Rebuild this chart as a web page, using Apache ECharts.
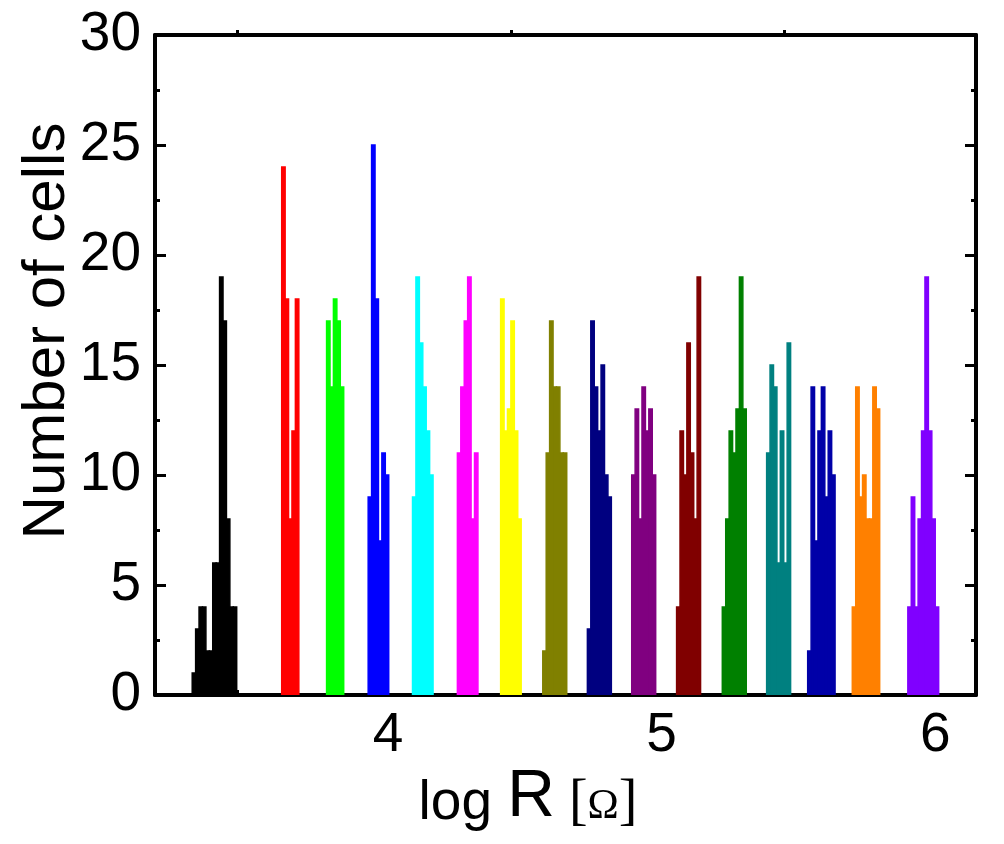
<!DOCTYPE html>
<html>
<head>
<meta charset="utf-8">
<script src="https://cdn.jsdelivr.net/npm/echarts@6/dist/echarts.min.js"></script>
<style>
  html, body { margin: 0; padding: 0; background: #fff; }
  #main { width: 1004px; height: 844px; }
</style>
</head>
<body>
<div id="main"></div>
<script>
// histogram bin width in log R units
var binWidth = 0.0125;
// left edge of each histogram (log R)
var groupStarts = [3.336, 3.663, 3.827, 3.979, 4.141, 4.305, 4.463, 4.617,
                   4.780, 4.942, 5.106, 5.273, 5.435, 5.585, 5.748, 5.951];
// counts per bin, one array per histogram
var groupCounts = [
    [1, 3, 4, 4, 2, 2, 6, 6, 19, 17, 8, 4, 4],
    [24, 18, 8, 12, 18],
    [17, 14, 18, 17, 14],
    [9, 25, 18, 7, 11, 10],
    [9, 19, 16, 14, 12, 10],
    [11, 14, 17, 19, 8, 11],
    [18, 12, 13, 17, 12, 8],
    [2, 11, 17, 14, 14, 11, 11],
    [3, 17, 14, 12, 15, 10, 9],
    [10, 13, 8, 14, 12, 13, 10],
    [4, 12, 10, 16, 11, 8, 19],
    [4, 8, 12, 11, 13, 19, 13],
    [11, 15, 14, 6, 12, 6, 16],
    [2, 14, 7, 12, 14, 9, 12, 10],
    [4, 14, 9, 10, 8, 8, 14, 13],
    [4, 9, 4, 8, 12, 19, 12, 8, 4]
];
var groupColors = ['#000000', '#ff0000', '#00ff00', '#0000ff', '#00ffff', '#ff00ff',
                   '#ffff00', '#808000', '#000080', '#800080', '#800000', '#008000',
                   '#008080', '#0000a8', '#ff8000', '#8000ff'];

var fontSans = 'Liberation Sans, Arial, sans-serif';
var fontSerif = 'Liberation Serif, Times New Roman, serif';

function renderBin(params, api) {
    var lo = api.coord([api.value(0), api.value(2)]);
    var hi = api.coord([api.value(1), 0]);
    var c = api.visual('color');
    return {
        type: 'rect',
        shape: { x: lo[0], y: lo[1], width: hi[0] - lo[0], height: hi[1] - lo[1] },
        style: { fill: c, stroke: c, lineWidth: 1.5 }
    };
}

var series = groupCounts.map(function (counts, g) {
    var data = counts.map(function (n, i) {
        var x0 = groupStarts[g] + i * binWidth;
        return [x0, x0 + binWidth, n];
    });
    return {
        type: 'custom',
        renderItem: renderBin,
        encode: { x: [0, 1], y: 2 },
        itemStyle: { color: groupColors[g] },
        clip: true,
        z: 5,
        data: data
    };
});

function frameLine() { return { show: true, onZero: false, lineStyle: { color: '#000', width: 4 } }; }
function majorTick() { return { show: true, inside: true, length: 11, lineStyle: { color: '#000', width: 3 } }; }
function minorTick() { return { show: true, splitNumber: 2, length: 5, lineStyle: { color: '#000', width: 3 } }; }

option = {
    animation: false,
    grid: { left: 155, right: 28, top: 35, bottom: 149 },
    xAxis: [{
        type: 'value',
        position: 'bottom',
        min: 3.2,
        max: 6.2,
        splitNumber: 3,
        axisLine: frameLine(),
        axisTick: majorTick(),
        minorTick: minorTick(),
        splitLine: { show: false },
        axisLabel: {
            margin: 13,
            color: '#000',
            fontSize: 55,
            fontFamily: fontSans,
            padding: [0, 0, 0, 28],
            formatter: function (v) { return Math.abs(v - Math.round(v)) < 1e-6 ? String(Math.round(v)) : ''; }
        },
        name: '{a|log }{b|R}{c| [}{d|Ω}{c|]}',
        nameLocation: 'middle',
        nameMoveOverlap: false,
        nameGap: 70,
        nameTextStyle: {
            padding: [0, 75, 0, 0],
            rich: {
                a: { fontSize: 55, fontFamily: fontSans, color: '#000', verticalAlign: 'bottom' },
                b: { fontSize: 66, fontFamily: fontSans, color: '#000', verticalAlign: 'bottom' },
                c: { fontSize: 56, fontFamily: fontSerif, color: '#000', verticalAlign: 'bottom' },
                d: { fontSize: 42, fontFamily: fontSerif, color: '#000', verticalAlign: 'bottom', padding: [0, 0, 3, 0] }
            }
        }
    }, {
        // top frame with the short half-unit ticks
        type: 'value',
        position: 'top',
        min: 3.2,
        max: 6.2,
        splitNumber: 3,
        axisLine: frameLine(),
        axisTick: { show: false },
        minorTick: minorTick(),
        splitLine: { show: false },
        axisLabel: { show: false }
    }, {
        // long integer ticks on top: axis pushed into the plot, ticks pointing up to the frame
        type: 'value',
        position: 'top',
        offset: -11,
        min: 3.2,
        max: 6.2,
        splitNumber: 3,
        axisLine: { show: false },
        axisTick: { show: true, inside: false, length: 11, lineStyle: { color: '#000', width: 3 } },
        splitLine: { show: false },
        axisLabel: { show: false }
    }],
    yAxis: [{
        type: 'value',
        position: 'left',
        min: 0,
        max: 30,
        interval: 5,
        axisLine: frameLine(),
        axisTick: majorTick(),
        minorTick: minorTick(),
        splitLine: { show: false },
        axisLabel: { margin: 14, color: '#000', fontSize: 55, fontFamily: fontSans },
        name: 'Number of cells',
        nameLocation: 'middle',
        nameMoveOverlap: false,
        nameRotate: 90,
        nameGap: 78,
        nameTextStyle: { color: '#000', fontSize: 60, fontFamily: fontSans, padding: [0, 0, 0, 68] }
    }, {
        type: 'value',
        position: 'right',
        min: 0,
        max: 30,
        interval: 5,
        axisLine: frameLine(),
        axisTick: majorTick(),
        minorTick: minorTick(),
        splitLine: { show: false },
        axisLabel: { show: false }
    }],
    series: series
};

var chart = echarts.init(document.getElementById('main'));
chart.setOption(option);
</script>
</body>
</html>
